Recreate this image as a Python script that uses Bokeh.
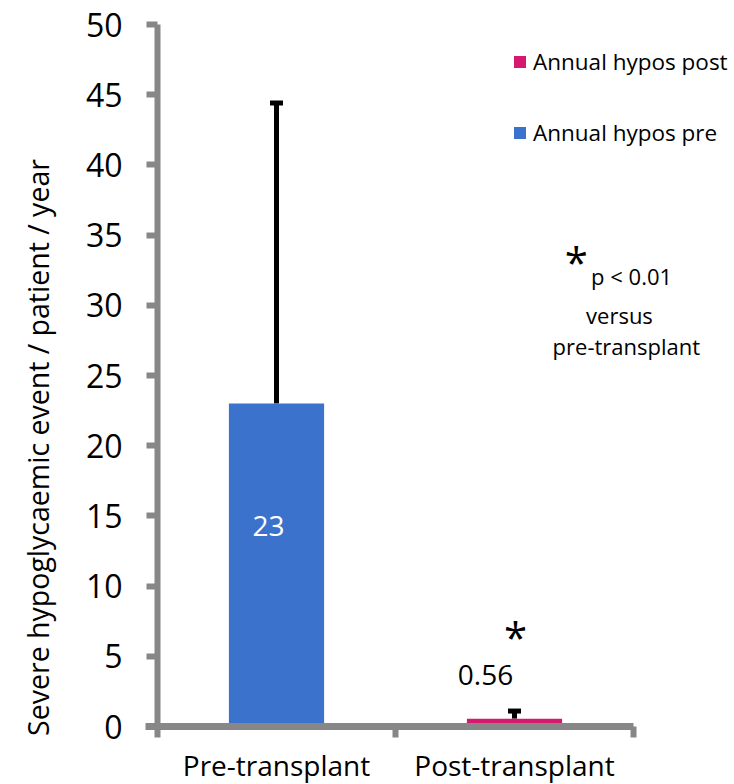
from bokeh.plotting import figure
from bokeh.models import (ColumnDataSource, FixedTicker, Whisker, TeeHead, Label,
                          Legend, LegendItem, Range1d)
from bokeh.embed import file_html
from bokeh.resources import INLINE

# ---- data ----
categories = ["Pre-transplant", "Post-transplant"]
series_names = ["Annual hypos pre", "Annual hypos post"]
values = [23, 0.56]
err_upper = [44.4, 1.1]
value_labels = ["23", "0.56"]
colors = ["#3B73CC", "#D6186F"]
y_ticks = [0, 5, 10, 15, 20, 25, 30, 35, 40, 45, 50]
y_title = "Severe hypoglycaemic event / patient / year"
note_lines = ["p < 0.01", "versus", "pre-transplant"]

FONT = "Open Sans"
GREY = "#878787"
W, H = 734, 784
xpos = [i + 0.5 for i in range(len(categories))]

# layout: plot area spans the whole canvas; axes are pinned at x=0 / y=0
PX_X = 238.0            # pixels per category
PX_Y = 702.0 / 50.0     # pixels per y unit
X0, Y0, YTOP = 157, 726, 24
x_range = Range1d(-X0 / PX_X, (W - X0) / PX_X)
y_range = Range1d(-(H - Y0) / PX_Y, 50 + YTOP / PX_Y)

p = figure(width=W, height=H, output_backend="svg", toolbar_location=None,
           x_range=x_range, y_range=y_range,
           min_border_left=0, min_border_right=0, min_border_top=0,
           min_border_bottom=0)
p.outline_line_color = None
p.grid.visible = False
p.background_fill_color = "white"
p.border_fill_color = "white"

renderers = []
for i in range(len(categories)):
    src = ColumnDataSource(dict(x=[xpos[i]], top=[values[i]], upper=[err_upper[i]]))
    r = p.vbar(x="x", top="top", bottom=0, width=0.4, fill_color=colors[i],
               line_color=None, source=src)
    renderers.append(r)
    p.add_layout(Whisker(source=src, base="x", lower="top", upper="upper",
                         line_width=5, line_color="black",
                         upper_head=TeeHead(size=13, line_width=5, line_color="black"),
                         lower_head=None))

# y axis
ya = p.yaxis[0]
ya.fixed_location = 0
ya.bounds = (0, 50)
ya.ticker = FixedTicker(ticks=y_ticks)
ya.axis_line_color = GREY
ya.axis_line_width = 6
ya.major_tick_line_color = GREY
ya.major_tick_line_width = 6
ya.major_tick_out = 11
ya.major_tick_in = 0
ya.minor_tick_out = 0
ya.minor_tick_in = 0
ya.major_label_text_font = FONT
ya.major_label_text_font_size = "32px"
ya.major_label_text_color = "black"
ya.major_label_standoff = 24

# x axis
xa = p.xaxis[0]
xa.fixed_location = 0
xa.bounds = (-12 / PX_X, len(categories))
xa.ticker = FixedTicker(ticks=xpos, minor_ticks=list(range(len(categories) + 1)))
xa.axis_line_color = GREY
xa.axis_line_width = 7
xa.major_tick_out = 0
xa.major_tick_in = 0
xa.minor_tick_out = 11
xa.minor_tick_in = 0
xa.minor_tick_line_color = GREY
xa.minor_tick_line_width = 6
xa.major_label_overrides = {xpos[i]: categories[i] for i in range(len(categories))}
xa.major_label_text_font = FONT
xa.major_label_text_font_size = "28px"
xa.major_label_text_color = "black"
xa.major_label_standoff = 8

# y title
p.add_layout(Label(x=37, y=H - 447, x_units="screen", y_units="screen", text=y_title,
                   angle=90, angle_units="deg", text_font=FONT,
                   text_font_size="28.5px", text_color="black", text_align="center",
                   text_baseline="alphabetic"))

# legend
legend = Legend(items=[LegendItem(label=series_names[1], renderers=[renderers[1]]),
                       LegendItem(label=series_names[0], renderers=[renderers[0]])],
                location=(512, 636), orientation="vertical",
                glyph_width=15, glyph_height=15, label_text_font=FONT,
                label_text_font_size="22.5px", label_text_color="black",
                label_height=24, spacing=40,
                padding=0, margin=0, border_line_color=None,
                background_fill_alpha=0, label_standoff=6)
p.add_layout(legend)

# value labels
p.add_layout(Label(x=0.466, y=14.3, text=value_labels[0], text_color="white",
                   text_font=FONT, text_font_size="28px", text_align="center",
                   text_baseline="middle"))
p.add_layout(Label(x=1.378, y=3.7, text=value_labels[1], text_color="black",
                   text_font=FONT, text_font_size="28px", text_align="center",
                   text_baseline="middle"))
p.add_layout(Label(x=1.504, y=6.4, text="*", text_color="black",
                   text_font=FONT, text_font_size="42px", text_align="center",
                   text_baseline="middle"))

# significance note
p.add_layout(Label(x=1.76, y=33.1, text="*", text_color="black",
                   text_font=FONT, text_font_size="42px", text_align="center",
                   text_baseline="middle"))
for txt, xx, yy in zip(note_lines, [1.992, 1.941, 1.97], [32.1, 29.3, 27.1]):
    p.add_layout(Label(x=xx, y=yy, text=txt, text_color="black", text_font=FONT,
                       text_font_size="22px", text_align="center",
                       text_baseline="middle"))

open("out.html", "w").write(file_html(p, INLINE))
